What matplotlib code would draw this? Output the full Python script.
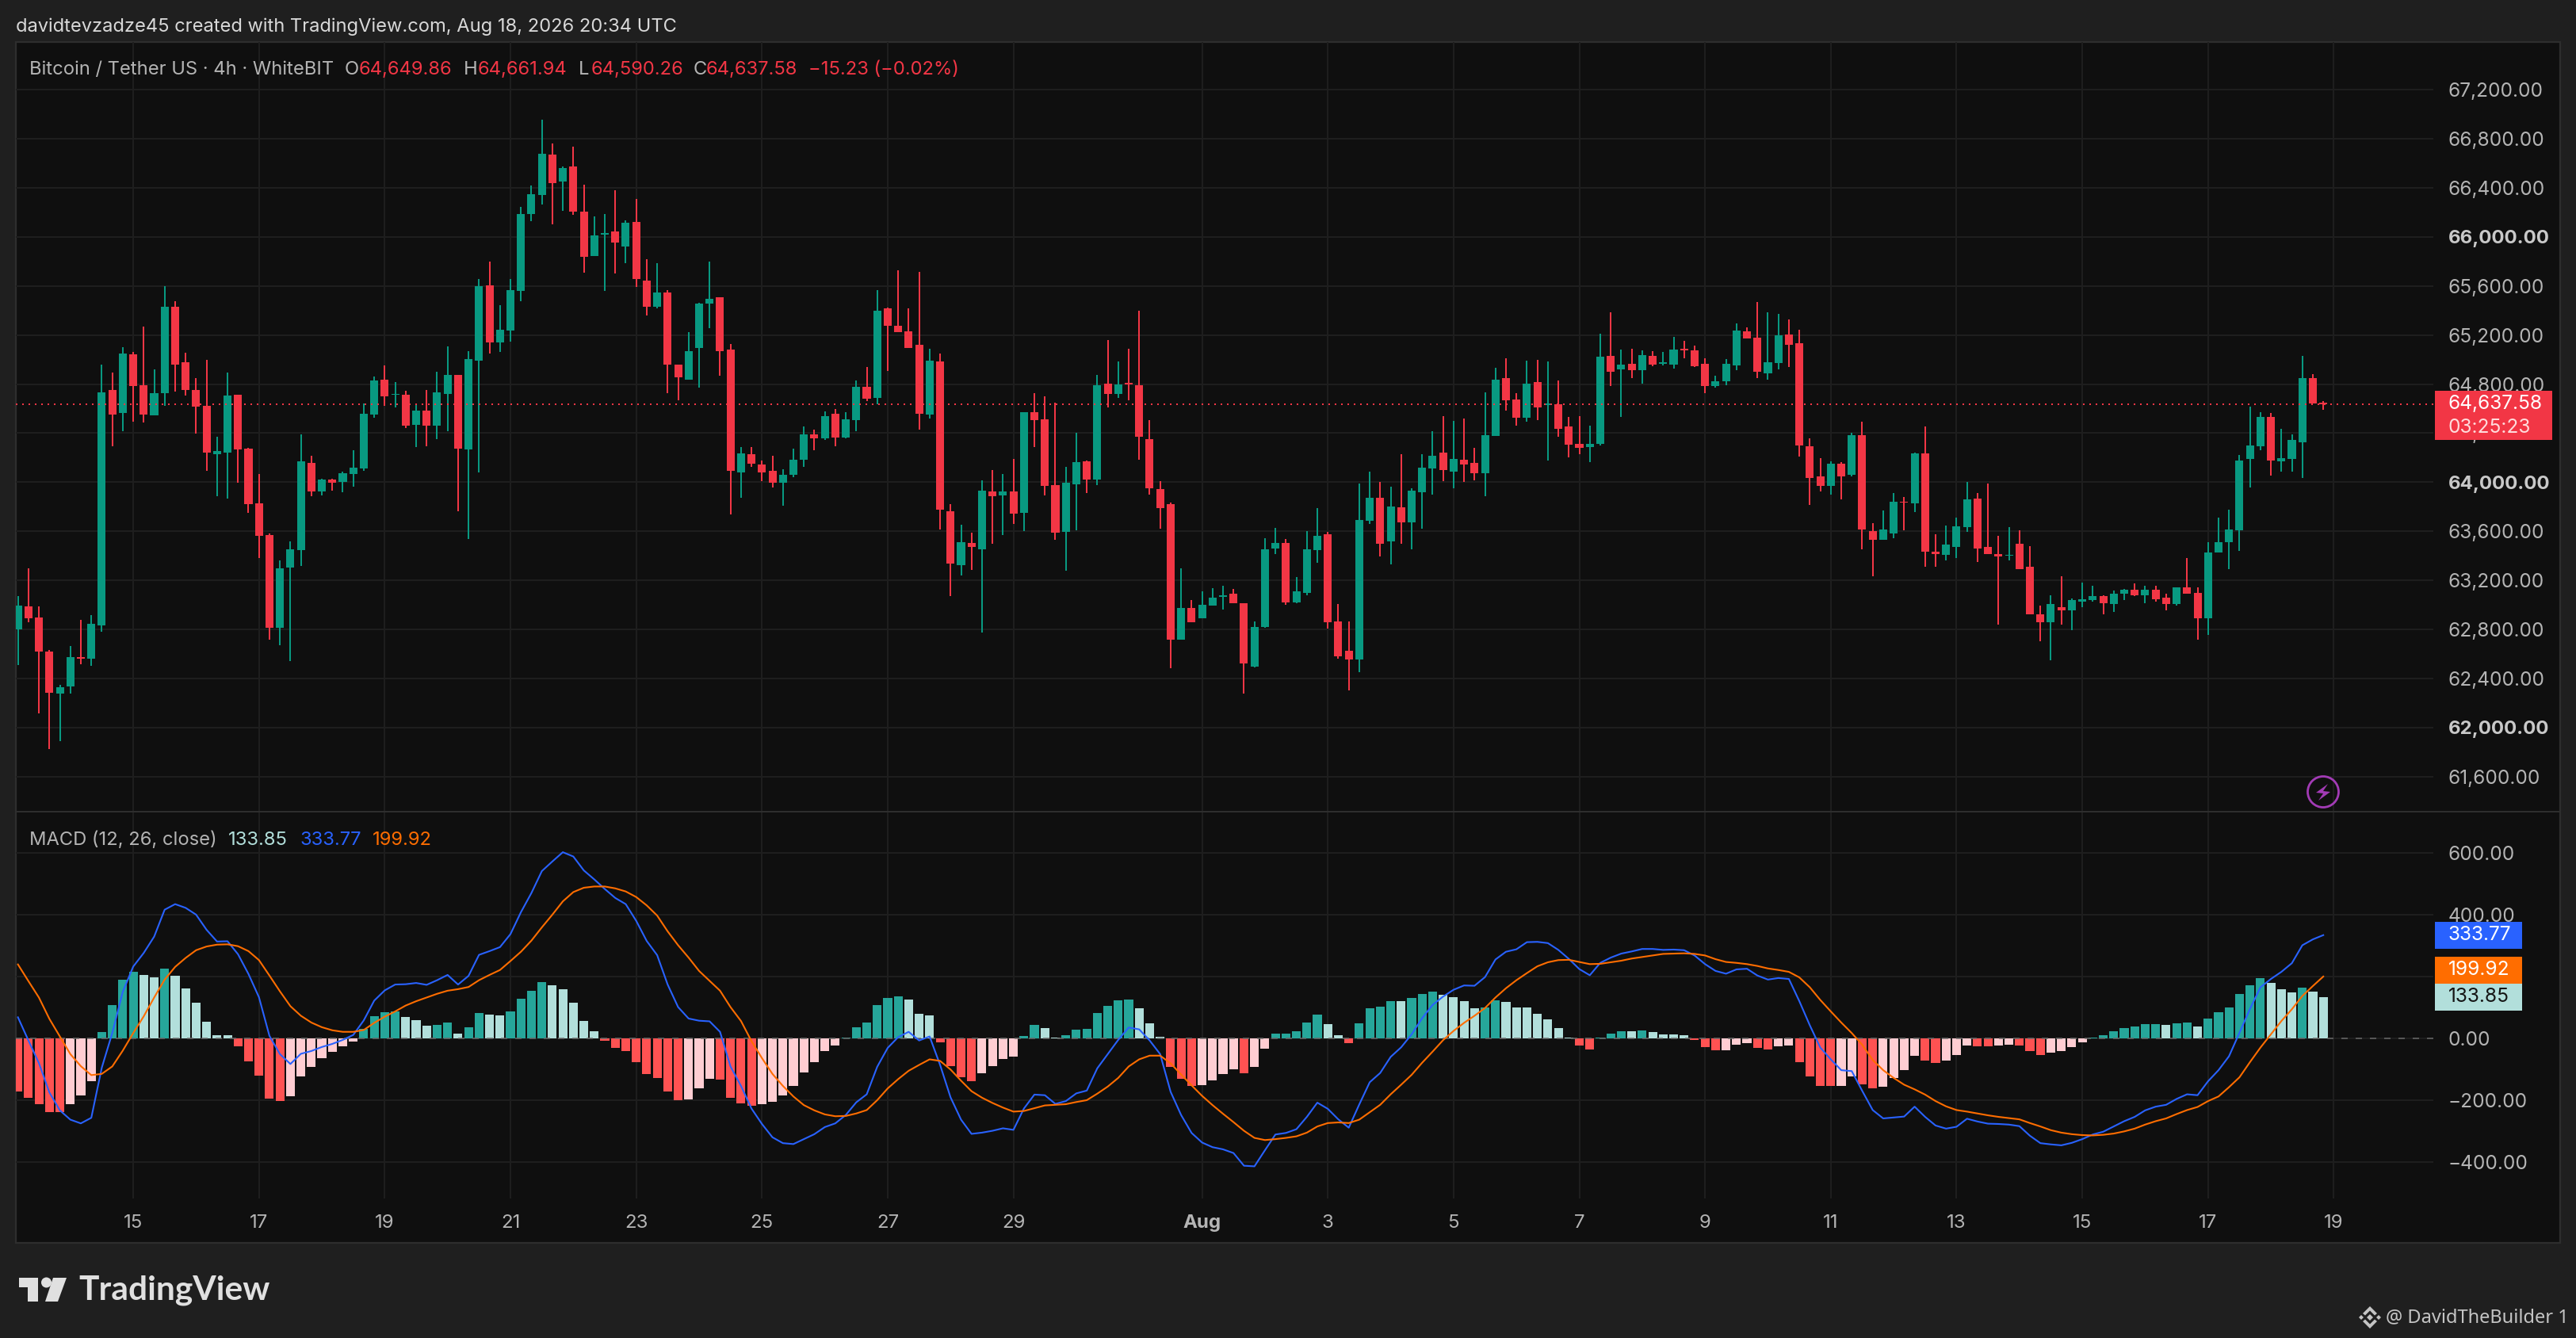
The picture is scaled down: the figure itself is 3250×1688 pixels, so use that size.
import matplotlib
matplotlib.use("Agg")
import matplotlib.pyplot as plt
from matplotlib.patches import Rectangle, Polygon, Circle
import numpy as np

W, H = 3250, 1688

opens = [62803,62988,62899,62622,62280,62338,62574,62564,62834,64752,
64564,65043,64790,64547,64728,65429,64978,64752,64622,64229,
64243,64715,64274,63829,63569,62814,63306,63450,64157,63925,
64024,64003,64068,64113,64554,64838,64711,64715,64468,64585,
64462,64721,64875,64267,64991,65603,65138,65238,65559,66188,
66342,66670,66451,66574,66205,65843,66017,66044,65921,66123,
65644,65429,65545,64961,64838,65094,65456,65508,65080,64082,
64229,64147,64092,63997,64062,64185,64390,64359,64557,64366,
64506,64780,64687,65419,65275,65231,65121,64554,64985,63764,
63327,63508,63453,63925,63894,63925,63750,64571,64513,63976,
63597,63983,64171,64024,64803,64721,64810,64790,64352,63945,
63822,62718,62978,62892,62995,63067,63094,63015,62499,62820,
63460,63508,63022,63101,63450,63576,62865,62629,62557,63686,
63874,63518,63798,63675,63918,64113,64243,64089,64185,64157,
64075,64379,64848,64673,64527,64817,64626,64636,64455,64315,
64287,64315,65029,64920,64964,64913,65029,64964,64961,65087,
65077,64964,64786,64824,64954,65231,65180,64889,64971,65203,
65135,64294,64048,63973,64150,64062,64383,63603,63532,63583,
63840,63830,64237,63437,63410,63474,63637,63869,63474,63417,
63400,63501,63309,62921,62857,62985,62958,63030,63039,63074,
63010,63089,63121,63081,63123,63057,63005,63141,63101,62894,
63425,63509,63610,64192,64294,64533,64173,64192,64326,64849,
64649.86]
highs = [63074,63299,62988,62632,62349,62667,62879,62920,64961,64896,
65101,65063,65268,64920,65600,65477,65056,64848,64998,64373,
64896,64715,64280,64068,63583,63364,63518,64390,64215,64031,
64031,64089,64263,64643,64862,64954,64817,64745,64643,64752,
64903,65108,64875,65070,65658,65798,65443,65658,66246,66420,
66954,66762,66574,66735,66424,66168,66188,66380,66133,66308,
65819,65785,65569,64961,65224,65463,65798,65508,65128,64287,
64287,64178,64215,64106,64274,64455,64431,64578,64598,64571,
64831,64940,65566,65426,65726,65419,65716,65087,65050,63822,
63655,63590,64017,64099,64068,64191,64571,64728,64701,64650,
64126,64403,64178,64875,65159,64985,65087,65398,64506,64010,
63836,63299,63043,63111,63138,63159,63132,63015,62865,63545,
63627,63538,63227,63603,63792,63597,63009,62865,63990,64089,
64003,63966,64229,63952,64229,64417,64540,64499,64520,64280,
64732,64933,65012,64728,64991,64998,64985,64831,64533,64540,
64462,65210,65385,65080,65087,65077,65070,65063,65186,65152,
65115,65012,64868,65005,65296,65262,65470,65385,65371,65327,
65244,64359,64198,64168,64164,64403,64496,63668,63771,63915,
63881,64242,64457,63578,63649,63709,64005,63913,63992,63565,
63637,63610,63481,62997,63081,63235,63054,63185,63153,63081,
63118,63133,63173,63153,63153,63089,63141,63385,63141,63514,
63714,63778,64222,64617,64573,64565,64437,64392,65029,64881,
64661.94]
lows = [62509,62862,62113,61826,61891,62280,62516,62506,62783,64294,
64417,64496,64489,64547,64622,64739,64708,64397,64092,63887,
63867,63997,63750,63385,62718,62674,62544,63320,63887,63894,
63932,63918,63966,64092,64527,64622,64612,64441,64287,64294,
64352,64417,63764,63538,64082,65050,65063,65145,65477,66130,
66263,66103,66212,66181,65709,65843,65559,65703,65785,65593,
65361,65419,64728,64670,64838,64773,65255,64868,63740,63874,
64126,64010,63959,63809,64041,64126,64263,64345,64294,64359,
64417,64663,64636,64906,65224,65094,64431,64520,63617,63074,
63241,63286,62776,63501,63569,63662,63603,64287,63894,63532,
63279,63610,63915,63976,64612,64687,64670,64185,63901,63624,
62485,62718,62862,62892,62995,62964,63015,62280,62492,62814,
63415,63002,63015,63080,63344,62807,62564,62304,62455,63662,
63395,63333,63501,63453,63624,63901,64010,63952,64003,64017,
63887,64379,64585,64462,64496,64506,64178,64373,64205,64229,
64164,64301,64786,64533,64848,64803,64947,64954,64926,65012,
64940,64728,64773,64790,64913,65173,64848,64838,64920,64940,
64209,63815,63925,63901,63860,64048,63453,63234,63532,63545,
63610,63758,63314,63309,63365,63385,63593,63353,63417,62842,
63365,63294,62921,62701,62546,62837,62797,62985,63030,62921,
62941,63037,63069,63017,63030,62958,62997,63094,62716,62758,
63425,63289,63442,63955,64262,64057,64089,64089,64037,64642,
64590.26]
closes = [62995,62892,62622,62284,62332,62574,62564,62848,64732,64554,
65050,64786,64554,64728,65429,64961,64752,64615,64243,64256,
64708,64267,63822,63566,62814,63299,63453,64171,63925,64024,
63997,64075,64120,64557,64831,64701,64721,64462,64585,64462,
64732,64875,64274,65005,65600,65138,65244,65566,66188,66349,
66677,66438,66561,66205,65839,66014,66031,65956,66116,65658,
65429,65545,64961,64855,65070,65456,65494,65070,64092,64236,
64150,64082,63997,64062,64185,64390,64359,64540,64366,64513,
64780,64680,65398,65275,65224,65094,64557,64991,63778,63337,
63511,63474,63932,63887,63925,63744,64571,64506,63973,63590,
63997,64164,64024,64790,64721,64797,64800,64373,63952,63792,
62718,62978,62862,63002,63060,63080,63015,62523,62820,63453,
63508,63022,63111,63453,63566,62862,62581,62557,63692,63874,
63501,63802,63675,63932,64120,64215,64099,64191,64147,64075,
64383,64838,64670,64527,64803,64612,64639,64438,64308,64280,
64315,65022,64903,64961,64913,65036,64961,64978,65080,65077,
64947,64786,64824,64964,65238,65173,64903,64978,65197,65121,
64301,64034,63973,64150,64048,64383,63617,63532,63617,63843,
63832,64237,63437,63417,63489,63642,63862,63457,63417,63397,
63410,63294,62921,62857,63010,62953,63037,63049,63074,63017,
63094,63121,63081,63126,63049,63005,63141,63094,62889,63430,
63514,63617,64178,64301,64533,64178,64197,64346,64849,64642,
64637.58]

macd_hist = [-171,-192,-212,-238,-239,-212,-185,-138,20,108,
190,215,205,197,226,203,162,115,54,10,
10,-26,-74,-120,-195,-203,-187,-123,-92,-64,
-44,-26,-10,31,72,85,87,69,59,41,
44,51,15,36,82,77,74,87,128,154,
182,172,159,115,56,23,-8,-31,-41,-77,
-115,-128,-172,-200,-197,-161,-131,-133,-192,-210,
-218,-213,-205,-185,-154,-110,-77,-41,-23,3,
36,51,108,131,136,126,79,74,-13,-90,
-126,-138,-113,-90,-67,-59,8,44,33,3,
10,28,31,82,105,123,126,97,49,5,
-92,-131,-154,-151,-136,-115,-100,-113,-92,-33,
15,16,23,51,77,46,10,-15,49,97,
103,121,121,131,144,151,141,133,121,97,
100,123,118,100,100,79,62,33,3,-23,
-36,3,15,23,23,26,21,13,13,10,
-5,-28,-38,-38,-21,-15,-31,-36,-26,-23,
-77,-123,-154,-155,-154,-123,-149,-162,-156,-128,
-103,-56,-72,-79,-72,-54,-23,-26,-27,-23,
-21,-22,-41,-54,-46,-41,-28,-13,3,10,
23,33,38,46,47,44,49,51,38,64,
85,100,144,172,195,179,159,149,164,151,
133.85]
signal_line = [239,185,132,63,6,-51,-90,-119,-115,-91,
-40,17,71,132,190,231,260,285,297,303,
304,298,282,253,203,152,104,73,51,36,
26,21,21,27,50,70,87,106,120,132,
144,154,159,166,188,205,221,250,280,316,
359,400,443,473,487,491,491,485,475,457,
430,397,346,301,261,218,186,154,101,56,
-9,-64,-115,-154,-188,-216,-233,-246,-252,-251,
-243,-232,-200,-162,-132,-105,-86,-68,-73,-101,
-137,-171,-192,-209,-224,-237,-235,-226,-217,-215,
-213,-206,-200,-179,-156,-128,-91,-68,-56,-56,
-81,-117,-152,-186,-216,-244,-271,-299,-322,-329,
-326,-322,-317,-305,-285,-274,-272,-274,-263,-239,
-215,-181,-150,-118,-79,-43,-6,24,50,73,
98,132,162,188,211,233,246,253,254,247,
240,241,246,251,258,263,268,273,274,275,
273,268,256,247,244,240,234,226,221,215,
197,165,124,87,51,17,-21,-70,-103,-128,
-150,-165,-182,-203,-220,-232,-237,-243,-249,-254,
-258,-262,-274,-285,-297,-305,-310,-313,-314,-312,
-308,-301,-292,-279,-268,-259,-245,-232,-222,-203,
-188,-158,-126,-77,-30,13,56,94,137,169,
199.92]

price_ticks = [61600,62000,62400,62800,63200,63600,64000,64400,64800,65200,65600,66000,66400,66800,67200]
bold_prices = [62000,64000,66000]
macd_ticks = [-400,-200,0,200,400,600]
day_positions = [11,23,35,47,59,71,83,95,113,125,137,149,161,173,185,197,209,221]
day_labels = ["15","17","19","21","23","25","27","29","Aug","3","5","7","9","11","13","15","17","19"]

last_price = 64637.58
macd_last, signal_last, hist_last = 333.77, 199.92, 133.85

BG, PANE, GRID, BORDER = "#1f1f1f", "#0f0f0f", "#1e1e1e", "#2e2e2e"
UP, DOWN = "#089981", "#F23645"
TXT = "#b4b4b4"
FONT = "Inter"
plt.rcParams["font.family"] = [FONT, "DejaVu Sans"]

def fx(x): return x / W
def fy(y): return 1 - y / H
def axrect(x0, y0, x1, y1): return [fx(x0), fy(y1), fx(x1 - x0), (y1 - y0) / H]

fig = plt.figure(figsize=(W / 100, H / 100), dpi=100, facecolor=BG)
fig.add_artist(Rectangle((fx(20), fy(1568)), fx(3210), (1568 - 53) / H, transform=fig.transFigure,
                         facecolor=PANE, edgecolor=BORDER, linewidth=1.6, zorder=-5))

ax = fig.add_axes(axrect(20, 53, 3070, 1024))
mx = fig.add_axes(axrect(20, 1024, 3070, 1512), sharex=ax)
idx = np.arange(len(opens))
XL = (-0.2, 230.5)
for a in (ax, mx):
    a.set_facecolor("none")
    a.set_xlim(*XL)
    a.grid(True, color=GRID, linewidth=1.44)
    a.set_axisbelow(True)
    for s in a.spines.values():
        s.set_visible(False)
    a.yaxis.tick_right()
    a.tick_params(axis="both", length=0)
ax.set_ylim(61315, 67588)
mx.set_ylim(-518, 733)

# candles
o, h, l, c = map(np.array, (opens, highs, lows, closes))
col = np.where(c >= o, UP, DOWN)
ax.vlines(idx, l, h, colors=col, linewidth=1.44, zorder=3)
ax.bar(idx, np.abs(c - o), bottom=np.minimum(o, c), width=0.76, color=col, linewidth=0, zorder=3.1)
ax.axhline(last_price, color=DOWN, linewidth=1.44, linestyle=(0, (1, 3)), zorder=3.2)

ax.set_yticks(price_ticks)
ax.set_yticklabels([f"{p:,.2f}" for p in price_ticks])
for lab, p in zip(ax.get_yticklabels(), price_ticks):
    bold = p in bold_prices
    lab.set_fontweight("bold" if bold else "normal")
    lab.set_color("#c8c8c8" if bold else TXT)
    lab.set_fontsize(17.3 if bold else 17.6)
ax.tick_params(axis="y", pad=13.5)
ax.tick_params(axis="x", labelbottom=False)

# MACD
hist = np.array(macd_hist, float)
sig = np.array(signal_line, float)
macd = sig + hist
prev = np.r_[hist[0] - 1 if hist[0] > 0 else hist[0] + 1, hist[:-1]]
hcol = ["#26A69A" if (v >= 0 and v > p) else "#B2DFDB" if v >= 0 else "#FF5252" if v < p else "#FFCDD2"
        for v, p in zip(hist, prev)]
mx.bar(idx, hist, width=0.84, color=hcol, linewidth=0, zorder=3)
mx.axhline(0, color="#6a6a6a", linewidth=1.44, linestyle=(0, (4, 5)), alpha=0.75, zorder=3.5)
mx.plot(idx, macd, color="#2962FF", linewidth=1.5, zorder=4, solid_joinstyle="round")
mx.plot(idx, sig, color="#FF6D00", linewidth=1.5, zorder=4.1, solid_joinstyle="round")
mx.set_yticks(macd_ticks)
mx.set_yticklabels([f"{v:.2f}".replace("-", "\u2212") for v in macd_ticks], color=TXT, fontsize=17.6)
mx.tick_params(axis="y", pad=13.5)
mx.set_xticks(day_positions)
mx.set_xticklabels(day_labels, color=TXT, fontsize=17.3)
mx.tick_params(axis="x", pad=14.5)
for lab, t in zip(mx.get_xticklabels(), day_labels):
    if t == "Aug":
        lab.set_fontweight("bold")

# pane divider
fig.add_artist(Rectangle((fx(20), fy(1025)), fx(3210), 2 / H, transform=fig.transFigure,
                         facecolor=BORDER, edgecolor="none", zorder=1))

def T(x, y, s, color=TXT, size=17.1, ha="left", **kw):
    return fig.text(fx(x), fy(y + 2), s, color=color, fontsize=size, ha=ha, va="center", zorder=12, **kw)

T(20, 32, "davidtevzadze45 created with TradingView.com, Aug 18, 2026 20:34 UTC", color="#d8d8d8", size=17.05)
T(37, 86, "Bitcoin / Tether US \u00b7 4h \u00b7 WhiteBIT")
for xl, lab, xv, val in [(435, "O", 453, "64,649.86"), (585, "H", 603, "64,661.94"),
                         (730, "L", 746, "64,590.26"), (875, "C", 891, "64,637.58")]:
    T(xl, 86, lab)
    T(xv, 86, val, color=DOWN)
T(1020, 86, "\u221215.23 (\u22120.02%)", color=DOWN)

T(37, 1058, "MACD (12, 26, close)")
T(288, 1058, "133.85", color="#B2DFDB")
T(379, 1058, "333.77", color="#2962FF")
T(470, 1058, "199.92", color="#FF6D00")

# price tags
def tag(y0, y1, color):
    fig.add_artist(Rectangle((fx(3072), fy(y1)), fx(3220 if color == DOWN else 3182) - fx(3072), (y1 - y0) / H,
                             transform=fig.transFigure, facecolor=color, edgecolor="none", zorder=10))
tag(493, 555, DOWN)
T(3089, 508, f"{last_price:,.2f}", color="white", size=17.6)
T(3089, 537, "03:25:23", color="#ffdcdc", size=17.6)
tag(1163, 1197, "#2962FF")
T(3089, 1178, f"{macd_last:.2f}", color="white", size=17.6)
tag(1207, 1241, "#FF6D00")
T(3089, 1222, f"{signal_last:.2f}", color="white", size=17.6)
tag(1241, 1275, "#B2DFDB")
T(3089, 1256, f"{hist_last:.2f}", color="#141414", size=17.6)

# lightning icon
def poly(pts, color, **kw):
    fig.add_artist(Polygon([(fx(x), fy(y)) for x, y in pts], closed=True, transform=fig.transFigure,
                           facecolor=color, edgecolor="none", zorder=12, **kw))
PUR = "#a23bb5"
fig.add_artist(Circle((2931, H - 999), 19.5, transform=None, facecolor="none", edgecolor=PUR, linewidth=2, zorder=12))
poly([(2937, 989), (2922, 1000), (2931, 1001), (2925, 1010), (2940, 999), (2931, 998)], PUR)

# TradingView logo
LOGO = "#e0e0e0"
poly([(24, 1612), (48, 1612), (48, 1642), (35, 1642), (35, 1624), (24, 1624)], LOGO)
fig.add_artist(Circle((58.5, H - 1618), 6.5, transform=None, facecolor=LOGO, edgecolor="none", zorder=12))
poly([(67, 1612), (84, 1612), (73, 1642), (57, 1642)], LOGO)
T(99, 1626, "TradingView", color=LOGO, size=30.6, fontweight="bold", fontfamily="Lato")

# watermark
WM = "#c4c4c4"
cx, cy = 2990, 1662
def diamond(x, y, r, color=WM):
    poly([(x, y - r), (x + r, y), (x, y + r), (x - r, y)], color)
diamond(cx, cy, 4)
diamond(cx - 11, cy, 3)
diamond(cx + 11, cy, 3)
for sgn in (-1, 1):
    poly([(cx, cy + sgn * 14), (cx + 9, cy + sgn * 5), (cx + 6, cy + sgn * 2.5), (cx, cy + sgn * 8.5),
          (cx - 6, cy + sgn * 2.5), (cx - 9, cy + sgn * 5)], WM)
T(3010, 1660, "@ DavidTheBuilder 1", color=WM, size=17, fontfamily="Noto Sans")

fig.savefig("out.png", dpi=100, facecolor=BG)
